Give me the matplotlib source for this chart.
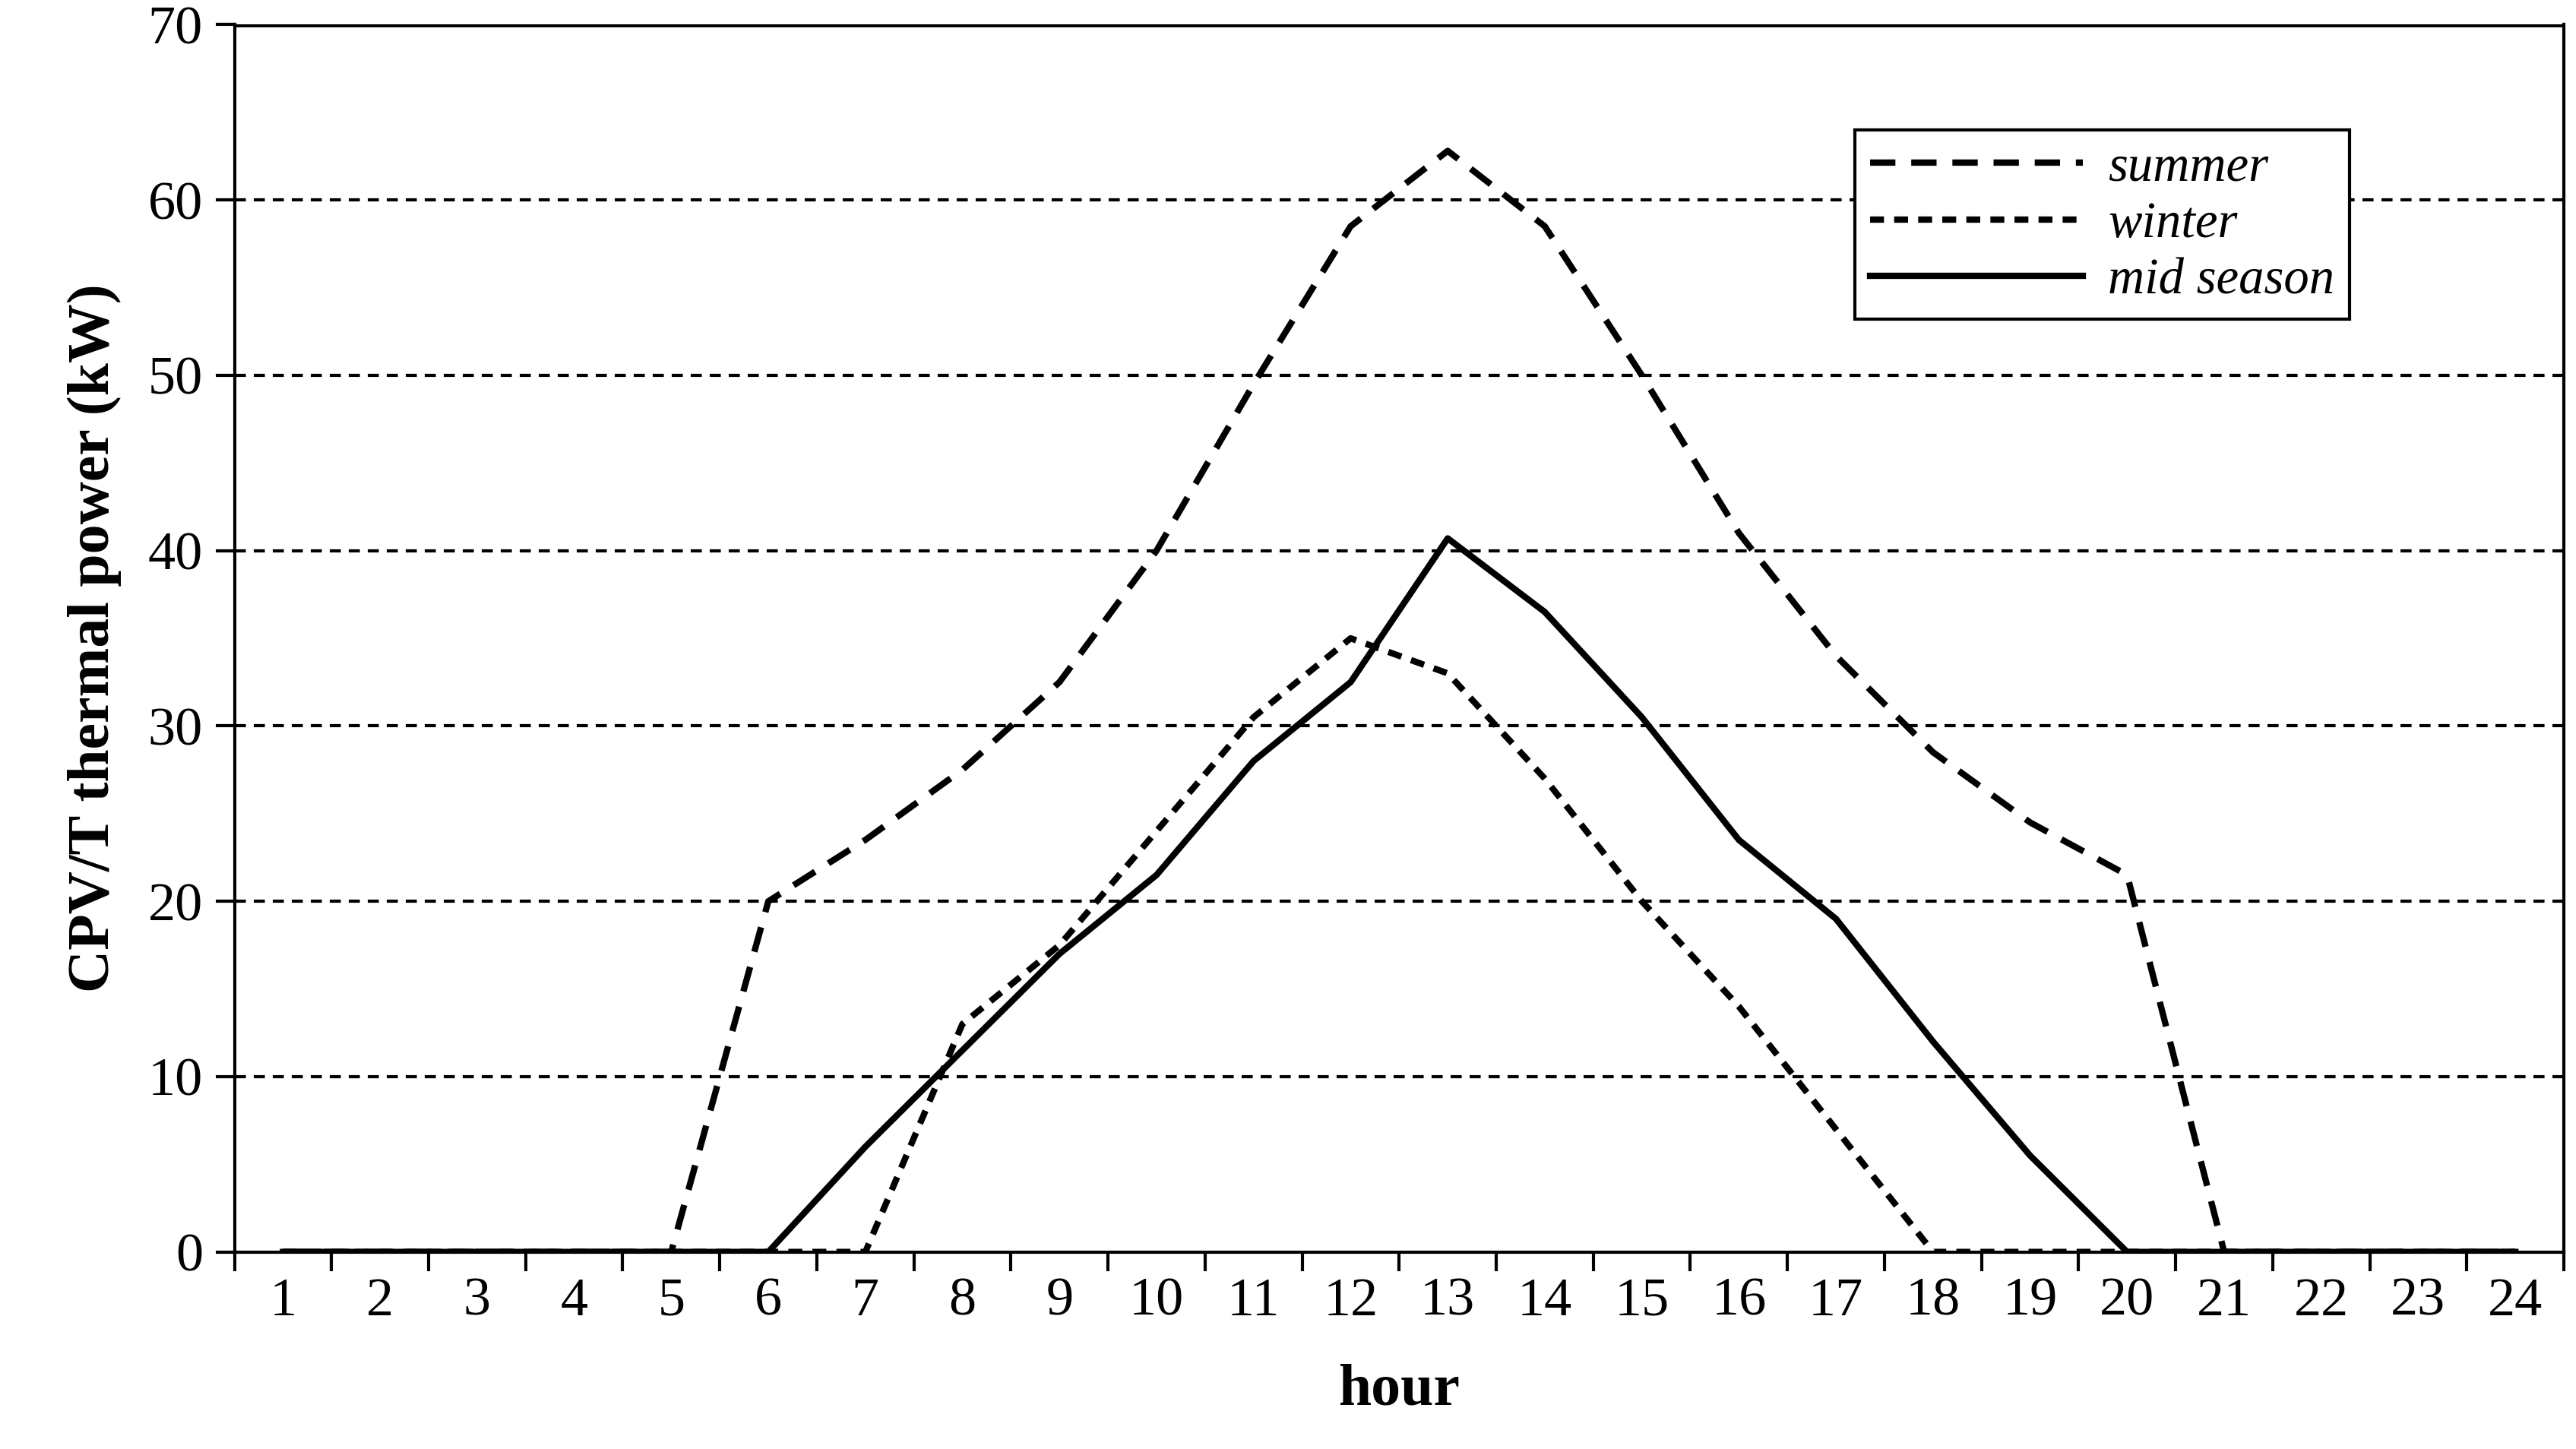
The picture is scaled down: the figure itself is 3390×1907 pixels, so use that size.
import matplotlib
matplotlib.use("Agg")
import matplotlib.pyplot as plt

hours = list(range(1, 25))
summer = [0,0,0,0,0,20,23.5,27.5,32.5,40,49.5,58.5,62.8,58.5,50,41,34,28.5,24.5,21.5,0,0,0,0]
winter = [0,0,0,0,0,0,0,13,17.5,24,30.5,35,33,27,20,14,7,0,0,0,0,0,0,0]
mid = [0,0,0,0,0,0,6,11.5,17,21.5,28,32.5,40.7,36.5,30.5,23.5,19,12,5.5,0,0,0,0,0]

plt.rcParams['font.family'] = ['Liberation Serif', 'DejaVu Serif']
fig = plt.figure(figsize=(33.91, 19.07), dpi=100)
ax = fig.add_axes([0.091, 0.136, 0.904, 0.847])
for y in range(10, 70, 10):
    ax.axhline(y, color='black', lw=3, ls=(0, (3.5, 2.5)), zorder=1)
ax.axhline(70, color='black', lw=5, zorder=1)
ax.plot(hours, summer, color='black', lw=6, ls=(0, (4, 2.5)), label='summer', zorder=3)
ax.plot(hours, winter, color='black', lw=6, ls=(0, (2.2, 1.6)), label='winter', zorder=3)
ax.plot(hours, mid, color='black', lw=6, ls='-', label='mid season', zorder=3)
ax.set_xlim(0.5, 24.5)
ax.set_ylim(0, 70)
ax.set_yticks(range(0, 71, 10))
ax.set_xticks([h + 0.5 for h in range(0, 25)])
ax.set_xticklabels([])
ax.set_xticks(hours, minor=True)
ax.set_xticklabels([str(h) for h in hours], minor=True)
ax.tick_params(axis='x', which='minor', length=0, pad=24, labelsize=52)
ax.tick_params(axis='x', which='major', length=18, width=3, direction='out')
ax.tick_params(axis='y', length=18, width=3, labelsize=52, pad=12)
for s in ['left', 'bottom', 'right']:
    ax.spines[s].set_linewidth(3)
ax.spines['top'].set_visible(False)
ax.set_xlabel('hour', fontsize=56, fontweight='bold', labelpad=35)
ax.set_ylabel('CPV/T thermal power (kW)', fontsize=56, fontweight='bold', labelpad=25)
leg = ax.legend(loc='upper right', bbox_to_anchor=(0.919, 0.935),
                prop={'style': 'italic', 'size': 48},
                fancybox=False, edgecolor='black', framealpha=1, handlelength=4.2,
                borderpad=0.3, labelspacing=0.2, handletextpad=0.5)
leg.get_frame().set_linewidth(3)
fig.savefig('out.png', dpi=100)
